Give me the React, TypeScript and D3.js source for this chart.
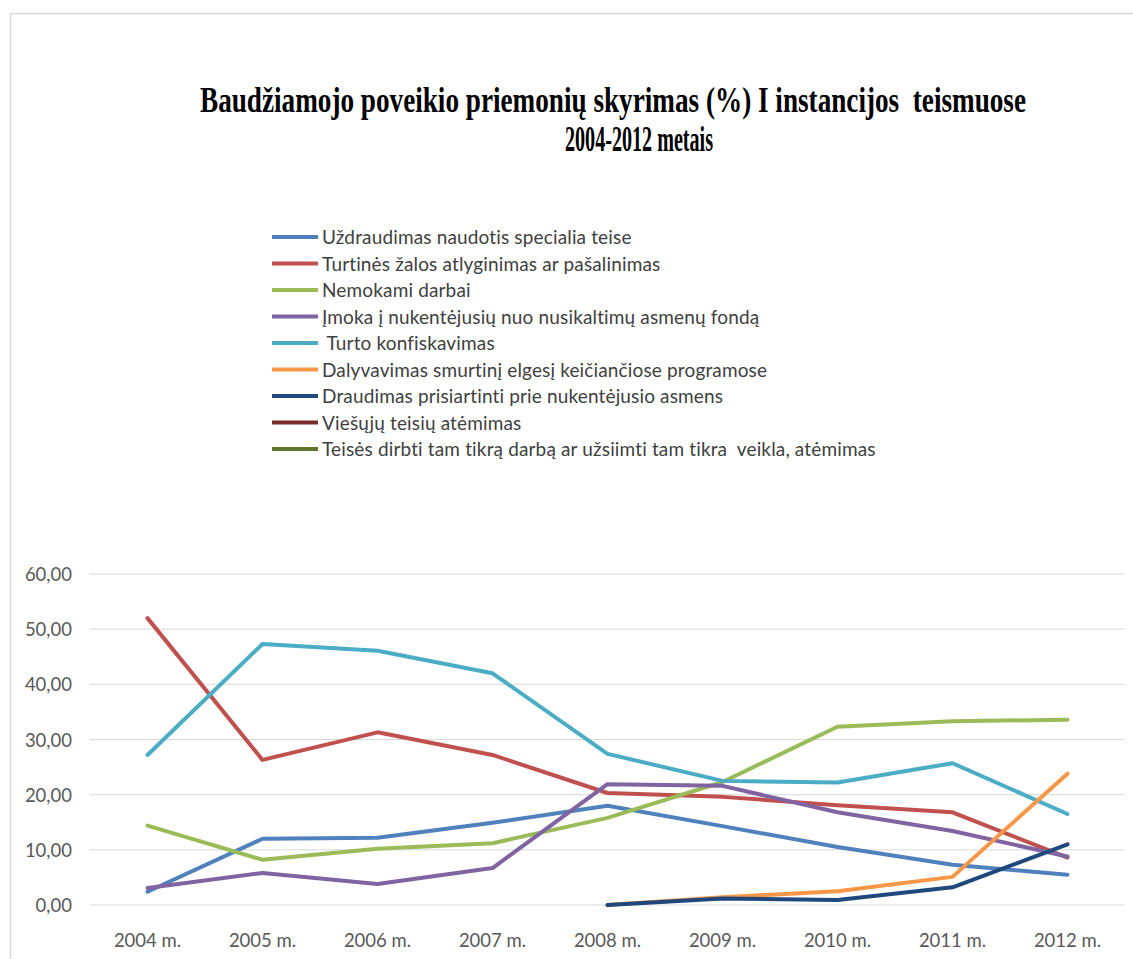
import React from "react";
import * as d3 from "d3";

const years = ["2004 m.", "2005 m.", "2006 m.", "2007 m.", "2008 m.", "2009 m.", "2010 m.", "2011 m.", "2012 m."];
const yTicks = [0, 10, 20, 30, 40, 50, 60];

const uzdraudimas = [2.4, 12.0, 12.2, 14.9, 18.0, 14.3, 10.5, 7.3, 5.5];
const turtines = [52.0, 26.3, 31.3, 27.2, 20.3, 19.6, 18.1, 16.8, 8.6];
const nemokami = [14.4, 8.2, 10.2, 11.2, 15.8, 22.3, 32.3, 33.3, 33.6];
const imoka = [3.1, 5.8, 3.8, 6.7, 21.9, 21.6, 16.8, 13.4, 8.8];
const turto = [27.2, 47.3, 46.1, 42.0, 27.4, 22.5, 22.2, 25.7, 16.5];
const dalyvavimas = [null, null, null, null, 0.0, 1.4, 2.5, 5.1, 23.8];
const draudimas = [null, null, null, null, 0.0, 1.2, 0.9, 3.2, 11.0];
const viesuju: (number | null)[] = [null, null, null, null, null, null, null, null, null];
const teises: (number | null)[] = [null, null, null, null, null, null, null, null, null];

const seriesNames = [
  "Uždraudimas naudotis specialia teise",
  "Turtinės žalos atlyginimas ar pašalinimas",
  "Nemokami darbai",
  "Įmoka į nukentėjusių nuo nusikaltimų asmenų fondą",
  " Turto konfiskavimas",
  "Dalyvavimas smurtinį elgesį keičiančiose programose",
  "Draudimas prisiartinti prie nukentėjusio asmens",
  "Viešųjų teisių atėmimas",
  "Teisės dirbti tam tikrą darbą ar užsiimti tam tikra  veikla, atėmimas",
];
const seriesValues = [uzdraudimas, turtines, nemokami, imoka, turto, dalyvavimas, draudimas, viesuju, teises];
const seriesColors = ["#4F81BD", "#C0504D", "#9BBB59", "#8064A2", "#4BACC6", "#F79646", "#1F497D", "#772C2A", "#5F7530"];

const titleLine1 = "Baudžiamojo poveikio priemonių skyrimas (%) I instancijos  teismuose";
const titleLine2 = "2004-2012 metais";

const W = 1133;
const H = 959;
const plotLeft = 90;
const plotRight = 1125;
const plotTop = 574;
const plotBottom = 905;

export default function App() {
  const x = d3.scalePoint<string>().domain(years).range([plotLeft, plotRight]).padding(0.5);
  const y = d3.scaleLinear().domain([0, 60]).range([plotBottom, plotTop]);
  const line = d3
    .line<number | null>()
    .defined((d) => d !== null)
    .x((_, i) => x(years[i]) as number)
    .y((d) => y(d as number));
  const fmt = (v: number) => v.toFixed(2).replace(".", ",");
  const font = "Lato, 'Open Sans', 'Noto Sans', sans-serif";
  const serif = "'Liberation Serif', 'Times New Roman', serif";
  const pre = { whiteSpace: "pre" as const };

  return (
    <svg width={W} height={H} style={{ position: "absolute", left: 0, top: 0, background: "#fff" }}>
      <rect x={0} y={0} width={W} height={H} fill="#fff" />
      <line x1={10.5} y1={13.5} x2={W} y2={13.5} stroke="#d9d9d9" strokeWidth={1.5} />
      <line x1={10.5} y1={13.5} x2={10.5} y2={H} stroke="#d9d9d9" strokeWidth={1.5} />

      <g transform="translate(613,112) scale(1,1.25)">
        <text x={0} y={0} textAnchor="middle" fontFamily={serif} fontWeight="bold" fontSize={28} fill="#000" textLength={826} lengthAdjust="spacingAndGlyphs" xmlSpace="preserve" style={pre}>
          {titleLine1}
        </text>
      </g>
      <g transform="translate(639,151) scale(1,1.25)">
        <text x={0} y={0} textAnchor="middle" fontFamily={serif} fontWeight="bold" fontSize={28} fill="#000" textLength={148} lengthAdjust="spacingAndGlyphs" style={pre}>
          {titleLine2}
        </text>
      </g>

      {seriesNames.map((name, i) => {
        const ly = 237 + i * 26.5;
        return (
          <g key={name}>
            <line x1={272} x2={318} y1={ly} y2={ly} stroke={seriesColors[i]} strokeWidth={4} />
            <text x={322} y={ly + 7} fontFamily={font} fontSize={19} letterSpacing={0.15} fill="#404040" xmlSpace="preserve" style={pre}>
              {name}
            </text>
          </g>
        );
      })}

      {yTicks.map((t) => (
        <g key={t}>
          <line x1={plotLeft} x2={plotRight} y1={y(t)} y2={y(t)} stroke="#d9d9d9" strokeWidth={1} />
          <text x={72} y={y(t) + 7} textAnchor="end" fontFamily={font} fontSize={18.5} fill="#595959">
            {fmt(t)}
          </text>
        </g>
      ))}

      {years.map((yr) => (
        <text key={yr} x={x(yr) as number} y={947} textAnchor="middle" fontFamily={font} fontSize={18.5} fill="#595959">
          {yr}
        </text>
      ))}

      {seriesValues.map((vals, i) => (
        <path key={i} d={line(vals) || ""} fill="none" stroke={seriesColors[i]} strokeWidth={4} strokeLinejoin="round" strokeLinecap="round" />
      ))}
    </svg>
  );
}
